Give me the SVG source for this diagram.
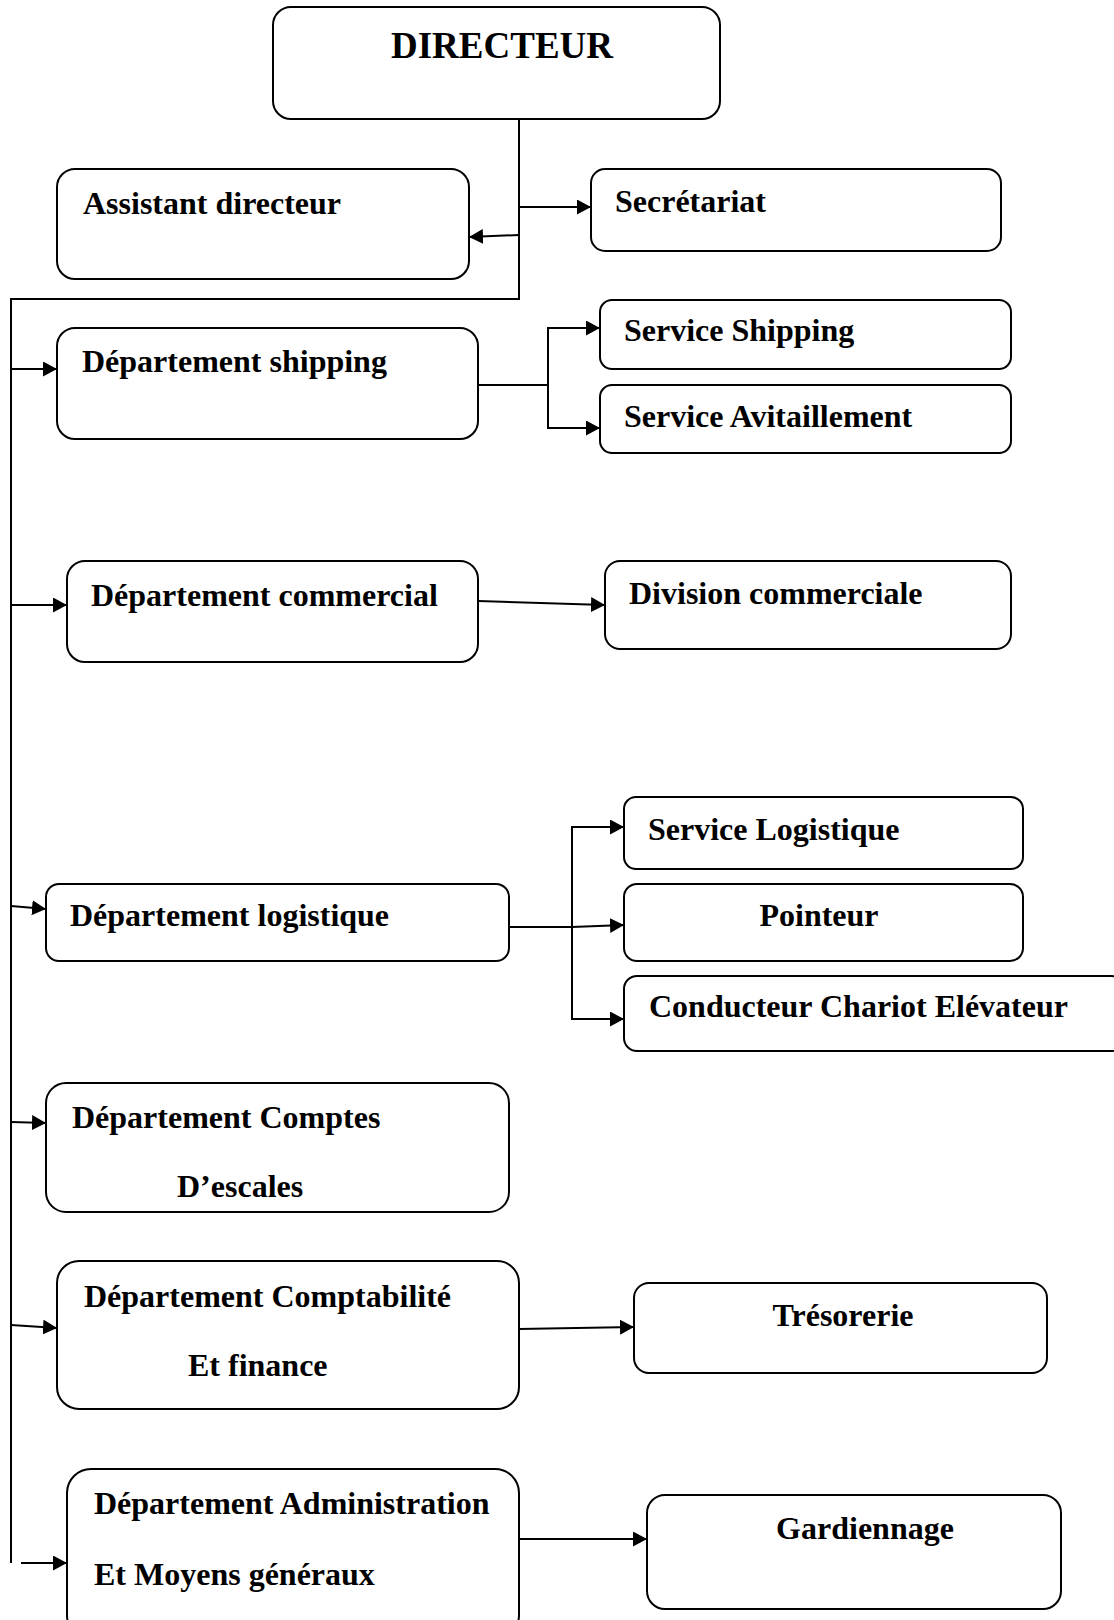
<svg xmlns="http://www.w3.org/2000/svg" width="1114" height="1620" viewBox="0 0 1114 1620">
<style>
.box{fill:#fff;stroke:#000;stroke-width:2}
.t{font-family:"Liberation Serif","Times New Roman",serif;font-weight:bold;font-size:32px;fill:#000}
.c{text-anchor:middle}
.ln{fill:none;stroke:#000;stroke-width:2}
.ar{fill:none;stroke:#000;stroke-width:2;marker-end:url(#ah)}
</style>
<defs>
<marker id="ah" markerUnits="userSpaceOnUse" markerWidth="16" markerHeight="16" refX="14" refY="7.5" orient="auto">
<path d="M0,0 L14,7.5 L0,15 z" fill="#000"/>
</marker>
</defs>
<rect width="1114" height="1620" fill="#fff"/>
<g id="connectors">
<polyline class="ln" points="519,119 519,299 11,299 11,1563"/>
<line class="ar" x1="519" y1="207" x2="591" y2="207"/>
<line class="ar" x1="519" y1="235" x2="469" y2="237"/>
<line class="ar" x1="11" y1="369" x2="57" y2="369"/>
<polyline class="ln" points="478,385 548,385"/>
<polyline class="ar" points="548,385 548,328 600,328"/>
<polyline class="ar" points="548,385 548,428 600,428"/>
<line class="ar" x1="11" y1="605" x2="67" y2="605"/>
<line class="ar" x1="478" y1="601" x2="605" y2="605"/>
<line class="ar" x1="11" y1="906" x2="46" y2="909"/>
<polyline class="ln" points="509,927 572,927"/>
<polyline class="ar" points="572,927 572,827 624,827"/>
<polyline class="ar" points="572,927 624,925"/>
<polyline class="ar" points="572,927 572,1019 624,1019"/>
<line class="ar" x1="11" y1="1122" x2="46" y2="1123"/>
<line class="ar" x1="11" y1="1325" x2="57" y2="1328"/>
<line class="ar" x1="519" y1="1329" x2="634" y2="1327"/>
<line class="ar" x1="21" y1="1563" x2="67" y2="1563"/>
<line class="ar" x1="519" y1="1539" x2="647" y2="1539"/>
</g>
<g id="directeur"><rect class="box" x="273" y="7" width="447" height="112" rx="18"/><text class="t" x="391" y="58" style="font-size:37px">DIRECTEUR</text></g>
<g id="assistant"><rect class="box" x="57" y="169" width="412" height="110" rx="18"/><text class="t" x="83" y="214">Assistant directeur</text></g>
<g id="secretariat"><rect class="box" x="591" y="169" width="410" height="82" rx="14"/><text class="t" x="615" y="212">Secrétariat</text></g>
<g id="dep-shipping"><rect class="box" x="57" y="328" width="421" height="111" rx="18"/><text class="t" x="82" y="372">Département shipping</text></g>
<g id="service-shipping"><rect class="box" x="600" y="300" width="411" height="69" rx="12"/><text class="t" x="624" y="341">Service Shipping</text></g>
<g id="service-avitaillement"><rect class="box" x="600" y="385" width="411" height="68" rx="12"/><text class="t" x="624" y="427">Service Avitaillement</text></g>
<g id="dep-commercial"><rect class="box" x="67" y="561" width="411" height="101" rx="18"/><text class="t" x="91" y="606">Département commercial</text></g>
<g id="division-commerciale"><rect class="box" x="605" y="561" width="406" height="88" rx="15"/><text class="t" x="629" y="604">Division commerciale</text></g>
<g id="dep-logistique"><rect class="box" x="46" y="884" width="463" height="77" rx="13"/><text class="t" x="70" y="926">Département logistique</text></g>
<g id="service-logistique"><rect class="box" x="624" y="797" width="399" height="72" rx="12"/><text class="t" x="648" y="840">Service Logistique</text></g>
<g id="pointeur"><rect class="box" x="624" y="884" width="399" height="77" rx="13"/><text class="t c" x="819" y="926">Pointeur</text></g>
<g id="conducteur"><rect class="box" x="624" y="976" width="500" height="75" rx="13"/><text class="t" x="649" y="1017">Conducteur Chariot Elévateur</text></g>
<g id="dep-comptes"><rect class="box" x="46" y="1083" width="463" height="129" rx="20"/><text class="t" x="72" y="1128">Département Comptes</text><text class="t" x="177" y="1197">D’escales</text></g>
<g id="dep-comptabilite"><rect class="box" x="57" y="1261" width="462" height="148" rx="22"/><text class="t" x="84" y="1307">Département Comptabilité</text><text class="t" x="188" y="1376">Et finance</text></g>
<g id="tresorerie"><rect class="box" x="634" y="1283" width="413" height="90" rx="15"/><text class="t c" x="843" y="1326">Trésorerie</text></g>
<g id="dep-administration"><rect class="box" x="67" y="1469" width="452" height="170" rx="24"/><text class="t" x="94" y="1514">Département Administration</text><text class="t" x="94" y="1585">Et Moyens généraux</text></g>
<g id="gardiennage"><rect class="box" x="647" y="1495" width="414" height="114" rx="18"/><text class="t c" x="865" y="1539">Gardiennage</text></g>
</svg>
